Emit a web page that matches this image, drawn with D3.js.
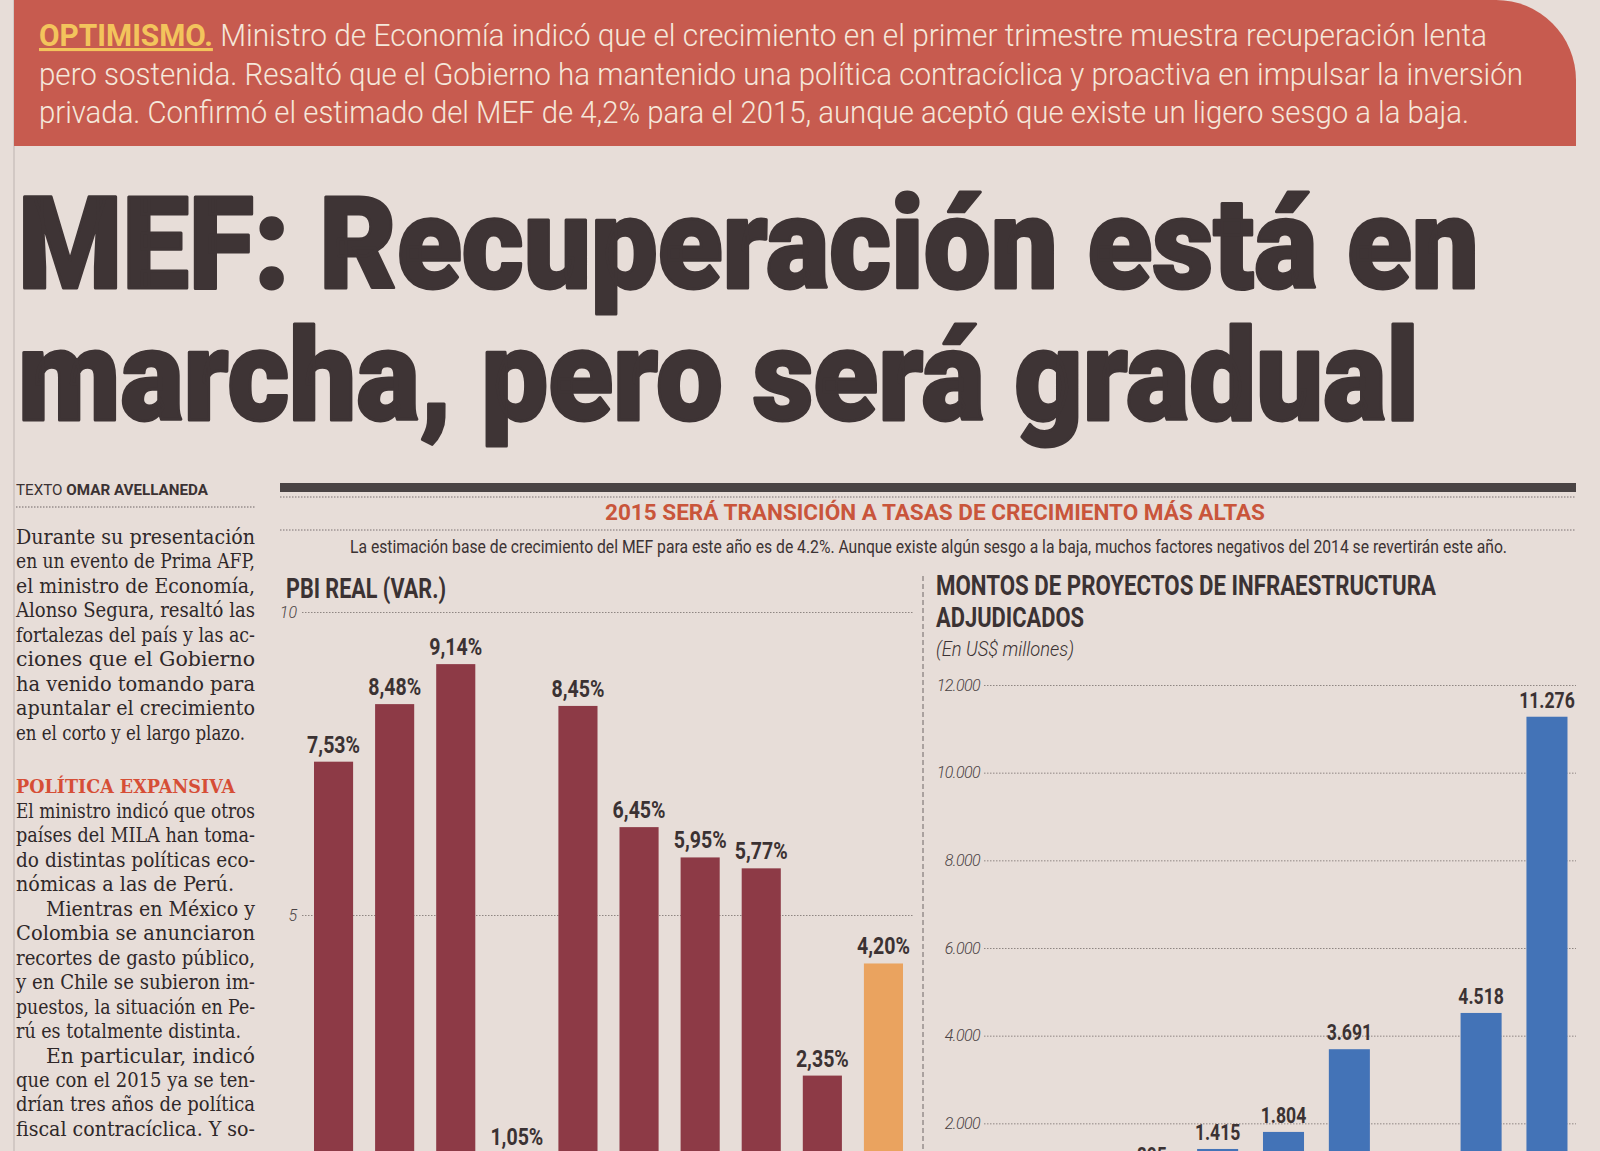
<!DOCTYPE html>
<meta charset="utf-8">

<!-- Load d3.js -->
<script src="https://d3js.org/d3.v7.min.js"></script>

<style>
  body { margin: 0; background: #e7ddd8; }
  svg { display: block; }
</style>

<div id="page"></div>
<script>

// ---- data ----
// PBI real, variación % (2015 = estimado MEF)
var pbiYears  = ["2006","2007","2008","2009","2010","2011","2012","2013","2014","2015"];
var pbiValues = [7.53, 8.48, 9.14, 1.05, 8.45, 6.45, 5.95, 5.77, 2.35, 4.20];
var pbiTicks  = [5, 10];

// montos adjudicados, US$ millones (null = bar hidden below the crop)
var infraYears  = ["2006","2007","2008","2009","2010","2011","2012","2013","2014"];
var infraValues = [null, null, 895, 1415, 1804, 3691, null, 4518, 11276];
var infraTicks  = [2000, 4000, 6000, 8000, 10000, 12000];

// ---- texts ----
var bannerLines = [
  "Ministro de Economía indicó que el crecimiento en el primer trimestre muestra recuperación lenta",
  "pero sostenida. Resaltó que el Gobierno ha mantenido una política contracíclica y proactiva en impulsar la inversión",
  "privada. Confirmó el estimado del MEF de 4,2% para el 2015, aunque aceptó que existe un ligero sesgo a la baja."
];
var headLines = ["MEF: Recuperación está en", "marcha, pero será gradual"];

var para1 = ["Durante su presentación", "en un evento de Prima AFP,", "el ministro de Economía,",
  "Alonso Segura, resaltó las", "fortalezas del país y las ac-", "ciones que el Gobierno",
  "ha venido tomando para", "apuntalar el crecimiento", "en el corto y el largo plazo."];
var para2 = ["El ministro indicó que otros", "países del MILA han toma-", "do distintas políticas eco-",
  "nómicas a las de Perú.", "Mientras en México y", "Colombia se anunciaron",
  "recortes de gasto público,", "y en Chile se subieron im-", "puestos, la situación en Pe-",
  "rú es totalmente distinta.", "En particular, indicó", "que con el 2015 ya se ten-",
  "drían tres años de política", "fiscal contracíclica. Y so-"];
var indented = ["Mientras en México y", "En particular, indicó"];
var shortLines = {"en el corto y el largo plazo.": 229, "nómicas a las de Perú.": 218, "rú es totalmente distinta.": 225};

var es = d3.formatLocale({decimal: ",", thousands: ".", grouping: [3], currency: ["", ""]});
var fmtPct = es.format(".2f");
var fmtNum = es.format(",");

var W = 1600, H = 1151;
var ink = "#3b3233";

var svg = d3.select("#page").append("svg")
    .attr("width", W)
    .attr("height", H);

svg.append("rect").attr("width", W).attr("height", H).attr("fill", "#e7ddd8");

// page column rule
svg.append("line")
    .attr("x1", 14).attr("x2", 14).attr("y1", 0).attr("y2", H)
    .attr("stroke", "#bdb3b0").attr("stroke-width", 1);

// ---- red banner ----
svg.append("path")
    .attr("d", "M14,0 H1496 A80,80 0 0 1 1576,80 V146 H14 Z")
    .attr("fill", "#c75b4f");

var bannerWidths = [1448, 1484, 1430];
bannerLines.forEach(function(line, i) {
  var t = svg.append("text")
      .attr("x", 39)
      .attr("y", 46 + i * 38.5)
      .attr("textLength", bannerWidths[i])
      .attr("lengthAdjust", "spacingAndGlyphs")
      .style("font", "300 31px Roboto")
      .attr("fill", "#f5e7da");
  if (i === 0) {
    t.append("tspan").attr("fill", "#f3c45c").style("font-weight", 700)
        .style("text-decoration", "underline").text("OPTIMISMO.");
    t.append("tspan").text(" " + line);
  } else {
    t.text(line);
  }
});

// ---- headline ----
var headWidths = [1461, 1401];
headLines.forEach(function(line, i) {
  svg.append("text")
      .attr("x", 18)
      .attr("y", 288 + i * 132)
      .attr("textLength", headWidths[i])
      .attr("lengthAdjust", "spacingAndGlyphs")
      .style("font", "900 128px Roboto")
      .attr("fill", "#3e3435")
      .attr("stroke", "#3e3435")
      .attr("stroke-width", 3)
      .attr("stroke-linejoin", "round")
      .text(line);
});

// ---- left text column ----
var by = svg.append("text")
    .attr("x", 16).attr("y", 495)
    .attr("textLength", 192).attr("lengthAdjust", "spacingAndGlyphs")
    .style("font", "400 15px Roboto").attr("fill", ink);
by.append("tspan").text("TEXTO ");
by.append("tspan").style("font-weight", 700).text("OMAR AVELLANEDA");

svg.append("line")
    .attr("x1", 16).attr("x2", 255).attr("y1", 507).attr("y2", 507)
    .attr("stroke", "#6f6667").attr("stroke-dasharray", "1.5,1.5");

function bodyLine(line, y) {
  var x0 = indented.indexOf(line) >= 0 ? 46 : 16;
  var w = shortLines[line] || (255 - x0);
  svg.append("text")
      .attr("x", x0).attr("y", y)
      .attr("textLength", w).attr("lengthAdjust", "spacingAndGlyphs")
      .style("font", "400 21px 'DejaVu Serif'")
      .attr("fill", "#2f2829")
      .text(line);
}
para1.forEach(function(line, i) { bodyLine(line, 544 + i * 24.45); });

svg.append("text")
    .attr("x", 16).attr("y", 793)
    .attr("textLength", 219).attr("lengthAdjust", "spacingAndGlyphs")
    .style("font", "700 18px 'DejaVu Serif'")
    .attr("fill", "#d64e36")
    .text("POLÍTICA EXPANSIVA");

para2.forEach(function(line, i) { bodyLine(line, 818 + i * 24.45); });

// ---- infographic header ----
svg.append("rect")
    .attr("x", 280).attr("y", 483).attr("width", 1296).attr("height", 9)
    .attr("fill", "#4a4344");

[497, 530].forEach(function(y) {
  svg.append("line")
      .attr("x1", 280).attr("x2", 1576).attr("y1", y).attr("y2", y)
      .attr("stroke", "#7a7172").attr("stroke-dasharray", "1.5,1.5");
});

svg.append("text")
    .attr("x", 605).attr("y", 520)
    .attr("textLength", 660).attr("lengthAdjust", "spacingAndGlyphs")
    .style("font", "700 22px Roboto")
    .attr("fill", "#c9553b")
    .text("2015 SERÁ TRANSICIÓN A TASAS DE CRECIMIENTO MÁS ALTAS");

svg.append("text")
    .attr("x", 350).attr("y", 553)
    .attr("textLength", 1157).attr("lengthAdjust", "spacingAndGlyphs")
    .style("font", "400 18px Roboto")
    .attr("fill", ink)
    .text("La estimación base de crecimiento del MEF para este año es de 4.2%. Aunque existe algún sesgo a la baja, muchos factores negativos del 2014 se revertirán este año.");

// separator between the two charts
svg.append("line")
    .attr("x1", 923).attr("x2", 923).attr("y1", 576).attr("y2", H)
    .attr("stroke", "#6e6667").attr("stroke-dasharray", "5,3");

// ---- left chart: PBI real ----
svg.append("text")
    .attr("x", 286).attr("y", 598)
    .attr("textLength", 160).attr("lengthAdjust", "spacingAndGlyphs")
    .style("font", "700 28px Roboto").attr("fill", ink)
    .text("PBI REAL (VAR.)");

var xPbi = d3.scaleBand()
    .domain(pbiYears)
    .range([303, 914])
    .paddingInner(0.36)
    .paddingOuter(0.18);

var yPbi = d3.scaleLinear()
    .domain([0, 10])
    .range([1218, 612]);

var gPbi = svg.append("g")
    .attr("transform", "translate(302,0)")
    .call(d3.axisLeft(yPbi).tickValues(pbiTicks).tickSize(-611).tickPadding(5));
gPbi.select(".domain").remove();
gPbi.selectAll("line").attr("stroke", "#8f8683").attr("stroke-dasharray", "1.5,1.5");
gPbi.selectAll("text").style("font", "italic 300 16px Roboto").attr("fill", "#4b4344");

var pbi = pbiYears.map(function(d, i) { return {year: d, value: pbiValues[i], est: i === pbiYears.length - 1}; });

svg.append("g")
  .selectAll("rect")
  .data(pbi)
  .enter().append("rect")
    .attr("x", function(d) { return xPbi(d.year); })
    .attr("y", function(d) { return yPbi(d.value); })
    .attr("width", xPbi.bandwidth())
    .attr("height", function(d) { return yPbi(0) - yPbi(d.value); })
    .attr("fill", function(d) { return d.est ? "#eaa35f" : "#8d3a46"; });

svg.append("g")
  .selectAll("g")
  .data(pbi)
  .enter().append("g")
    .attr("transform", function(d) {
      return "translate(" + (xPbi(d.year) + xPbi.bandwidth() / 2) + "," + (yPbi(d.value) - 9) + ") scale(0.85,1)";
    })
  .append("text")
    .attr("text-anchor", "middle")
    .style("font", "700 23px Roboto")
    .attr("fill", ink)
    .text(function(d) { return fmtPct(d.value) + "%"; });

// ---- right chart: montos adjudicados ----
svg.append("text")
    .attr("x", 936).attr("y", 595)
    .attr("textLength", 500).attr("lengthAdjust", "spacingAndGlyphs")
    .style("font", "700 27px Roboto").attr("fill", ink)
    .text("MONTOS DE PROYECTOS DE INFRAESTRUCTURA");
svg.append("text")
    .attr("x", 936).attr("y", 627)
    .attr("textLength", 148).attr("lengthAdjust", "spacingAndGlyphs")
    .style("font", "700 27px Roboto").attr("fill", ink)
    .text("ADJUDICADOS");
svg.append("text")
    .attr("x", 936).attr("y", 656)
    .attr("textLength", 138).attr("lengthAdjust", "spacingAndGlyphs")
    .style("font", "italic 300 20px Roboto").attr("fill", ink)
    .text("(En US$ millones)");

var xInf = d3.scaleBand()
    .domain(infraYears)
    .range([987, 1580])
    .paddingInner(0.377)
    .paddingOuter(0.19);

var yInf = d3.scaleLinear()
    .domain([0, 12000])
    .range([1211, 685]);

var gInf = svg.append("g")
    .attr("transform", "translate(984,0)")
    .call(d3.axisLeft(yInf).tickValues(infraTicks).tickSize(-592).tickPadding(4).tickFormat(fmtNum));
gInf.select(".domain").remove();
gInf.selectAll("line").attr("stroke", "#8f8683").attr("stroke-dasharray", "1.5,1.5");
gInf.selectAll("text").style("font", "italic 300 16px Roboto").style("letter-spacing", "-0.6px").attr("fill", "#4b4344");

var infra = infraYears
  .map(function(d, i) { return {year: d, value: infraValues[i]}; })
  .filter(function(d) { return d.value !== null; });

svg.append("g")
  .selectAll("rect")
  .data(infra)
  .enter().append("rect")
    .attr("x", function(d) { return xInf(d.year); })
    .attr("y", function(d) { return yInf(d.value); })
    .attr("width", xInf.bandwidth())
    .attr("height", function(d) { return yInf(0) - yInf(d.value); })
    .attr("fill", "#4373b7");

svg.append("g")
  .selectAll("g")
  .data(infra)
  .enter().append("g")
    .attr("transform", function(d) {
      return "translate(" + (xInf(d.year) + xInf.bandwidth() / 2) + "," + (yInf(d.value) - 9) + ") scale(0.8,1)";
    })
  .append("text")
    .attr("text-anchor", "middle")
    .style("font", "700 22px Roboto")
    .attr("fill", ink)
    .text(function(d) { return fmtNum(d.value); });

</script>
